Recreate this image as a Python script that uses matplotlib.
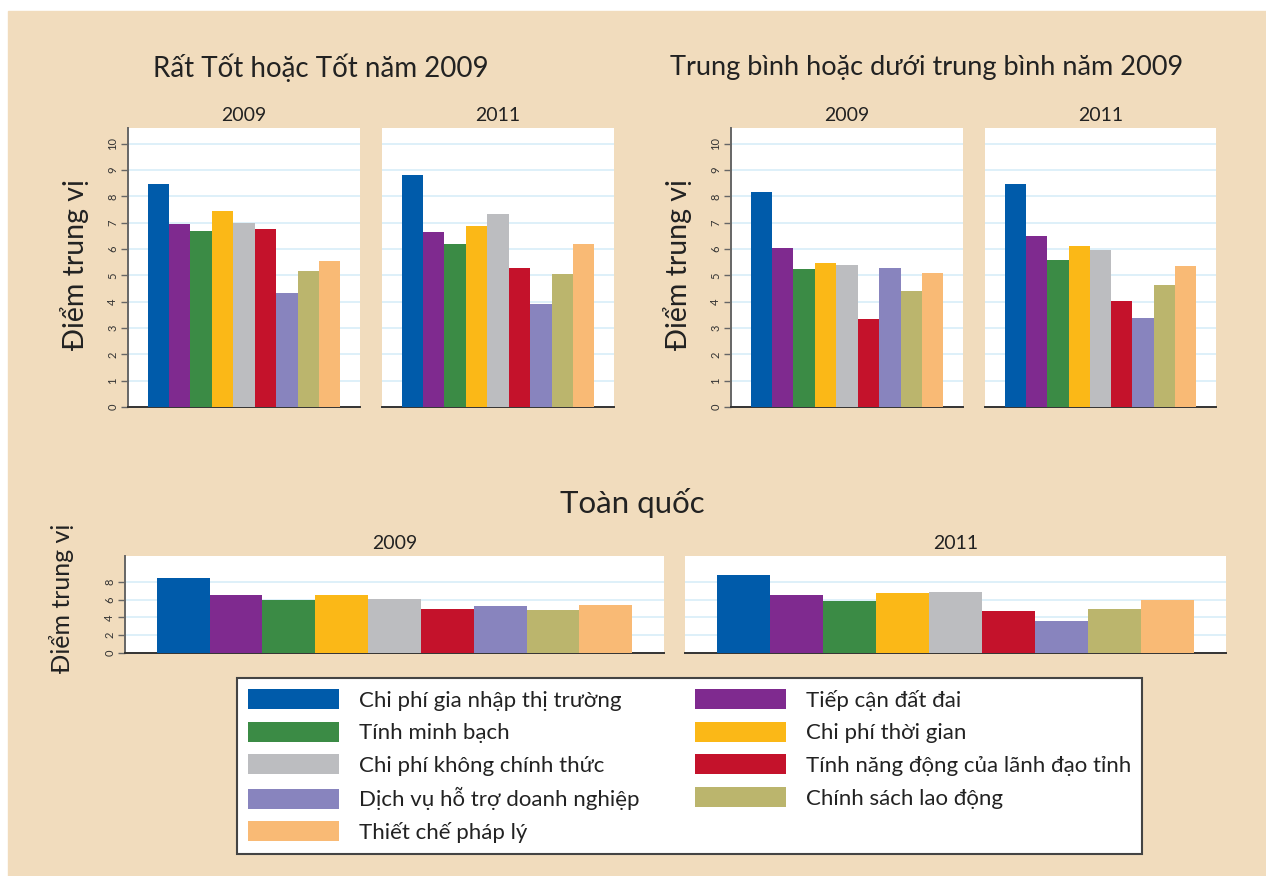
import matplotlib
matplotlib.use("Agg")
import matplotlib.pyplot as plt
from matplotlib.patches import Rectangle, Patch

plt.rcParams['font.family'] = ['Lato', 'Noto Sans', 'DejaVu Sans']

categories = ["Chi phí gia nhập thị trường", "Tiếp cận đất đai", "Tính minh bạch",
              "Chi phí thời gian", "Chi phí không chính thức",
              "Tính năng động của lãnh đạo tỉnh", "Dịch vụ hỗ trợ doanh nghiệp",
              "Chính sách lao động", "Thiết chế pháp lý"]
colors = ["#005BAA", "#7F2A8F", "#3B8B45", "#FBB817", "#BCBDC0",
          "#C4122B", "#8884BE", "#BBB56D", "#F9BA75"]

years = ["2009", "2011"]
good_2009 = [8.49, 6.95, 6.69, 7.44, 7.00, 6.78, 4.33, 5.16, 5.53]
good_2011 = [8.80, 6.63, 6.20, 6.87, 7.33, 5.30, 3.93, 5.07, 6.20]
avg_2009 = [8.15, 6.05, 5.23, 5.46, 5.41, 3.33, 5.30, 4.39, 5.10]
avg_2011 = [8.49, 6.50, 5.60, 6.12, 5.98, 4.02, 3.38, 4.65, 5.36]
nat_2009 = [8.45, 6.50, 5.94, 6.50, 6.06, 4.93, 5.27, 4.82, 5.42]
nat_2011 = [8.71, 6.50, 5.87, 6.77, 6.88, 4.71, 3.55, 4.93, 5.94]

W, H = 1266, 876
BG = "#F1DCBD"
GRID = "#D8EEF8"

fig = plt.figure(figsize=(W / 100, H / 100), dpi=100)
fig.patches.append(Rectangle((8 / W, 0), 1 - 8 / W, 1 - 11 / H,
                             transform=fig.transFigure, color=BG, zorder=-10))


def box(l, t, r, b):
    return [l / W, 1 - b / H, (r - l) / W, (b - t) / H]


def panel(rect, vals, title, yticks, ymax, gap, show_y):
    ax = fig.add_axes(box(*rect))
    x = range(len(vals))
    ax.bar(x, vals, width=1.0, color=colors, zorder=3)
    ax.set_xlim(-0.5 - gap, len(vals) - 0.5 + gap)
    ax.set_ylim(0, ymax)
    ax.set_yticks(yticks)
    ax.set_xticks([])
    for v in yticks:
        if v > 0:
            ax.axhline(v, color=GRID, lw=1.2, zorder=1)
    for s in ["top", "right"]:
        ax.spines[s].set_visible(False)
    ax.spines["bottom"].set_color("#333333")
    ax.spines["bottom"].set_linewidth(1.4)
    if show_y:
        ax.spines["left"].set_color("#666666")
        ax.spines["left"].set_linewidth(1.4)
        ax.tick_params(axis="y", length=5, width=1, color="#666666",
                       labelsize=8, labelcolor="#333333", pad=2)
        for lab in ax.get_yticklabels():
            lab.set_rotation(90)
            lab.set_va("center")
    else:
        ax.spines["left"].set_visible(False)
        ax.tick_params(axis="y", left=False, labelleft=False)
    ax.set_title(title, fontsize=14, color="#222222", pad=5)
    return ax


top_ticks = list(range(0, 11))
panel((128, 128, 360, 407), good_2009, years[0], top_ticks, 10.6, 0.92, True)
panel((382, 128, 614, 407), good_2011, years[1], top_ticks, 10.6, 0.92, False)
panel((731, 128, 963, 407), avg_2009, years[0], top_ticks, 10.6, 0.92, True)
panel((985, 128, 1216, 407), avg_2011, years[1], top_ticks, 10.6, 0.92, False)

bot_ticks = [0, 2, 4, 6, 8]
panel((125, 556, 664, 653), nat_2009, years[0], bot_ticks, 10.9, 0.6, True)
panel((685, 556, 1226, 653), nat_2011, years[1], bot_ticks, 10.9, 0.6, False)

fig.text(321 / W, 1 - 68 / H, "Rất Tốt hoặc Tốt năm 2009", fontsize=20,
         ha="center", va="center", color="#222222")
fig.text(927 / W, 1 - 68 / H, "Trung bình hoặc dưới trung bình năm 2009", fontsize=19.5,
         ha="center", va="center", color="#222222")
fig.text(632 / W, 1 - 503 / H, "Toàn quốc", fontsize=22.5,
         ha="center", va="center", color="#222222")
fig.text(75 / W, 1 - 265 / H, "Điểm trung vị", fontsize=20.5, rotation=90,
         ha="center", va="center", color="#222222")
fig.text(678 / W, 1 - 265 / H, "Điểm trung vị", fontsize=20.5, rotation=90,
         ha="center", va="center", color="#222222")
fig.text(62 / W, 1 - 598 / H, "Điểm trung vị", fontsize=18, rotation=90,
         ha="center", va="center", color="#222222")

order = [0, 2, 4, 6, 8, 1, 3, 5, 7]
handles = [Patch(facecolor=colors[i], edgecolor="none") for i in order]
labels = [categories[i] for i in order]
leg = fig.legend(handles, labels, loc="upper left", ncol=2, mode="expand",
                 bbox_to_anchor=(237 / W, 1 - 852 / H, 905 / W, 174 / H),
                 borderaxespad=0, fontsize=16, handlelength=4.1, handleheight=1.0,
                 handletextpad=0.9, labelspacing=0.5, borderpad=0.5,
                 fancybox=False, framealpha=1, edgecolor="#444444")
leg.get_frame().set_linewidth(1.5)
for t in leg.get_texts():
    t.set_color("#222222")

fig.savefig("out.png", dpi=100)
